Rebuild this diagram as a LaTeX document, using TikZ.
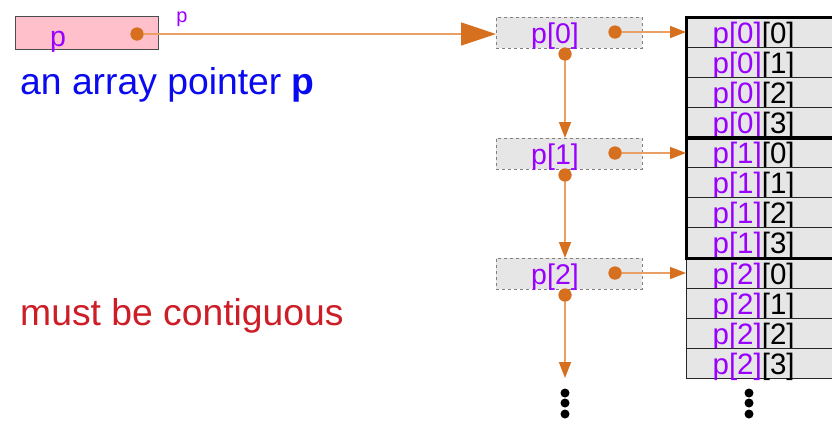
\documentclass[tikz,border=0pt]{standalone}
\usepackage{fontspec}
\setmainfont{Liberation Sans}
\usetikzlibrary{arrows.meta}
\definecolor{ptrpink}{RGB}{255,192,203}
\definecolor{cellgray}{RGB}{230,230,230}
\definecolor{tiporange}{RGB}{214,112,30}
\definecolor{lineorange}{RGB}{234,160,100}
\definecolor{idxpurple}{RGB}{153,0,255}
\definecolor{noteblue}{RGB}{10,10,240}
\definecolor{notered}{RGB}{205,30,40}

\begin{document}
\begin{tikzpicture}[x=1pt,y=-1pt,
  font=\fontsize{28.5}{30}\selectfont,
  ptrbox/.style={draw=black!70, line width=1.2pt, fill=ptrpink, inner sep=0pt,
    minimum width=143pt, minimum height=33pt, anchor=north west},
  rowbox/.style={draw=gray, dashed, line width=0.9pt, fill=cellgray, inner sep=0pt,
    minimum width=146pt, minimum height=31pt, anchor=north west},
  cellbox/.style={draw=black!85, line width=1.2pt, fill=cellgray, anchor=north west,
    minimum width=150pt, minimum height=30pt, inner ysep=0pt, inner xsep=26pt,
    text width=98pt, align=left, text height=22.5pt, text depth=1.5pt,
    font=\fontsize{29.5}{30}\selectfont},
  dot/.style={circle, fill=tiporange, inner sep=0pt, minimum size=13pt},
  bigdot/.style={circle, fill=black, inner sep=0pt, minimum size=9pt},
  link/.style={draw=lineorange, line width=1.6pt,
    -{Triangle[length=16pt,width=12pt,fill=tiporange,color=tiporange]}},
  mainlink/.style={draw=lineorange, line width=1.6pt,
    -{Triangle[length=35pt,width=23pt,fill=tiporange,color=tiporange]}},
  idx/.style={text=idxpurple},
]
\useasboundingbox (0,0) rectangle (832,421);
\clip (0,0) rectangle (832,421);

% the pointer variable p
\node[ptrbox] (pbox) at (15,16) {};
\node[idx, anchor=base] (plabel) at (58,46) {p};
\node[dot] (pdot) at (137,34) {};
\node[idx, anchor=base, font=\fontsize{20}{22}\selectfont] (ptag) at (182,22) {p};

% captions
\node[anchor=base west, inner sep=0pt, text=noteblue, font=\fontsize{37.3}{40}\selectfont]
  (cap1) at (20,94) {an array pointer \textbf{p}};
\node[anchor=base west, inner sep=0pt, text=notered, font=\fontsize{37.3}{40}\selectfont]
  (cap2) at (20,325) {must be contiguous};

% row pointers p[0], p[1], p[2]
\foreach \i/\top in {0/17, 1/138, 2/258} {
  \node[rowbox] (r\i) at (496,\top) {};
  \node[idx, anchor=base] (rl\i) at (555,\top+26) {p[\i]};
  \node[dot] (rd\i) at (615,\top+15) {};
  \node[dot] (bd\i) at (565,\top+37) {};
}

% the rows of the 2-D array
\foreach \i/\top in {0/17, 1/137, 2/258} {
  \foreach \j in {0,1,2,3} {
    \node[cellbox] (c\i\j) at (686,\top+30*\j) {\textcolor{idxpurple}{p[\i]}[\j]};
  }
}
\draw[line width=3pt] (c00.north west) rectangle (c03.south east);
\draw[line width=3pt] (c10.north west) rectangle (c13.south east);

% connectors
\draw[mainlink] (pdot.center) -- (pdot.center -| r0.west);
\foreach \i in {0,1,2} {
  \draw[link] (rd\i.center) -- (rd\i.center -| c\i0.west);
}
\coordinate (down3) at (565,378);
\draw[link] (bd0.center) -- (r1.north -| bd0);
\draw[link] (bd1.center) -- (r2.north -| bd1);
\draw[link] (bd2.center) -- (down3);

% redraw dots above the lines
\foreach \n in {pdot, rd0, rd1, rd2, bd0, bd1, bd2} {
  \node[dot] at (\n) {};
}

% continuation marks
\foreach \y [count=\k] in {393,403,414} {
  \node[bigdot] (va\k) at (565,\y) {};
  \node[bigdot] (vb\k) at (749,\y) {};
}
\end{tikzpicture}
\end{document}
